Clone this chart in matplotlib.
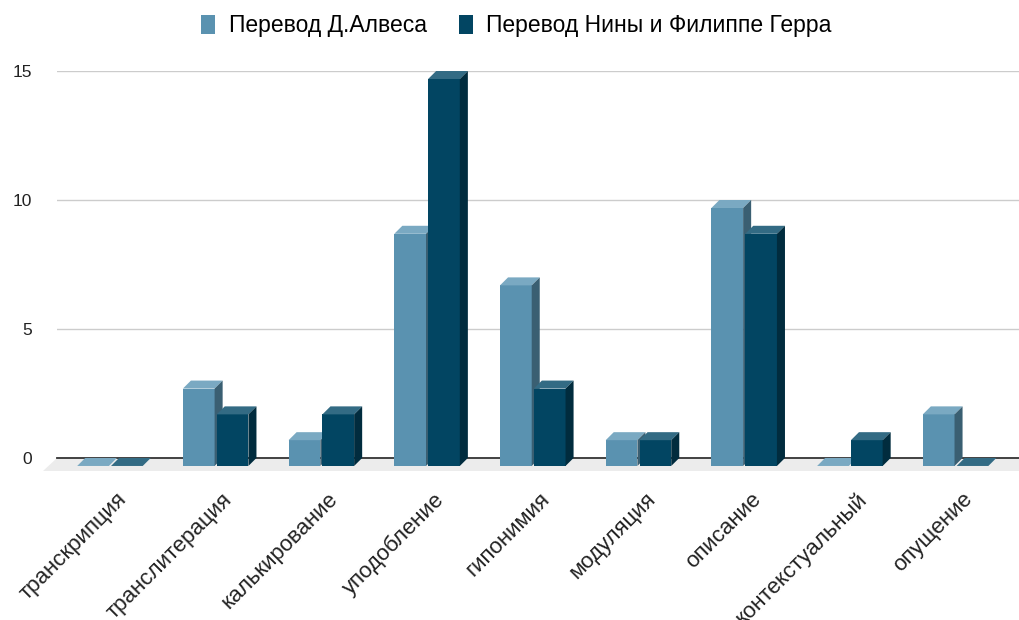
import matplotlib
matplotlib.use("Agg")
import matplotlib.pyplot as plt
from matplotlib.patches import Polygon, Patch

plt.rcParams['font.family'] = ['Liberation Sans', 'DejaVu Sans']

categories = ['транскрипция', 'транслитерация', 'калькирование', 'уподобление',
              'гипонимия', 'модуляция', 'описание', 'контекстуальный', 'опущение']
alves = [0, 3, 1, 9, 7, 1, 10, 0, 2]
guerra = [0, 2, 2, 15, 3, 1, 9, 1, 0]
series_names = ['Перевод Д.Алвеса', 'Перевод Нины и Филиппе Герра']

# front / side / top colours for each series
colors = [('#5a92b0', '#3a5f72', '#7aa9c2'),
          ('#024562', '#012c3e', '#336b84')]

W, H = 1019, 620
fig = plt.figure(figsize=(W / 100, H / 100), dpi=100)
ax = fig.add_axes([57 / W, (H - 475) / H, 1 - 57 / W, (475 - 71) / H])
ax.set_xlim(-0.501, 8.60)
ax.set_ylim(-0.66, 15)

w = 0.30     # bar width
gap = 0.01
dx = 0.076   # depth in x units
dy = 0.31    # depth in y units

# floor and zero line
x0, x1 = ax.get_xlim()
ax.add_patch(Polygon([(x0, 0), (x1, 0), (x1, -0.5), (x0 - 0.13, -0.5)],
                     closed=True, facecolor='#ececec', edgecolor='none',
                     clip_on=False, zorder=1))
for v in [5, 10, 15]:
    ax.axhline(v, color='#cccccc', lw=1, zorder=0)
ax.plot([x0, x1], [0, 0], color='#333333', lw=1.3, zorder=2, clip_on=False)

for s, vals in enumerate([alves, guerra]):
    front, side, top = colors[s]
    lefts = [i - gap - w if s == 0 else i + gap for i in range(len(vals))]
    ax.bar(lefts, vals, width=w, bottom=-dy, align='edge', color=front,
           zorder=3 + s, clip_on=False)
    for xl, v in zip(lefts, vals):
        ax.add_patch(Polygon([(xl, v - dy), (xl + w, v - dy), (xl + w + dx, v), (xl + dx, v)],
                             closed=True, facecolor=top, edgecolor='none',
                             zorder=3 + s, clip_on=False))
        if v > 0:
            ax.add_patch(Polygon([(xl + w, -dy), (xl + w + dx, 0), (xl + w + dx, v), (xl + w, v - dy)],
                                 closed=True, facecolor=side, edgecolor='none',
                                 zorder=3 + s, clip_on=False))

for sp in ax.spines.values():
    sp.set_visible(False)
ax.set_yticks([0, 5, 10, 15])
ax.tick_params(axis='y', length=0, pad=18, labelsize=12.5, labelcolor='#222222')
ax.set_xticks([i + 0.06 for i in range(len(categories))])
ax.set_xticklabels(categories, rotation=45, ha='right', va='top',
                   rotation_mode='anchor', fontsize=16, color='#222222')
ax.tick_params(axis='x', length=0, pad=10)

handles = [Patch(facecolor=colors[0][0]), Patch(facecolor=colors[1][0])]
fig.legend(handles, series_names, loc='upper center', bbox_to_anchor=(0.507, 1.01),
           ncol=2, frameon=False, fontsize=16.5, handlelength=0.6, handleheight=0.9,
           handletextpad=0.6, columnspacing=1.4)

fig.savefig('out.png', dpi=100)
